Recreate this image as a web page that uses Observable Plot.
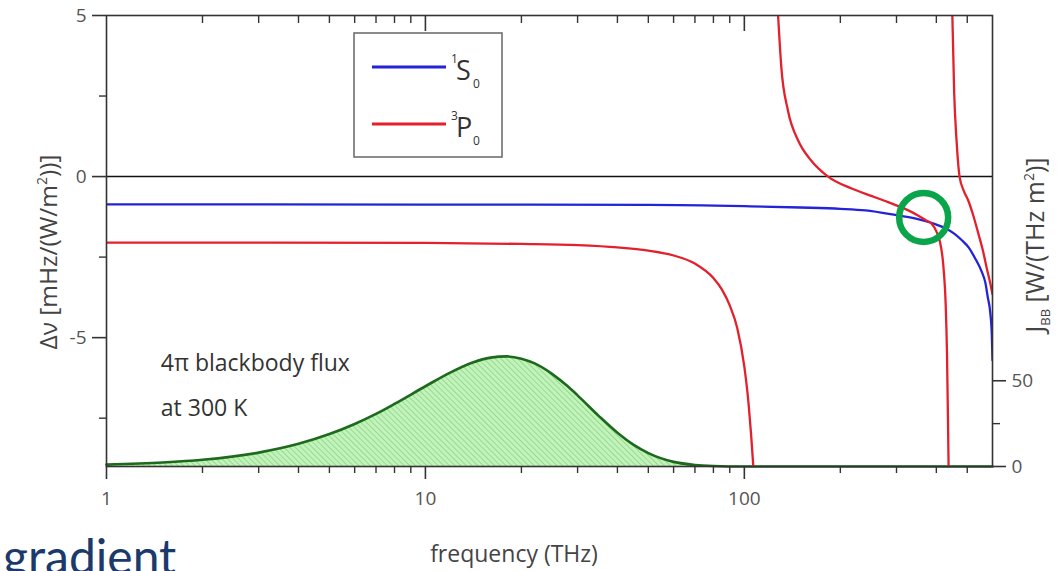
<!DOCTYPE html>
<html>
<head>
<meta charset="utf-8">
<script src="https://cdn.jsdelivr.net/npm/d3@7"></script>
<script src="https://cdn.jsdelivr.net/npm/@observablehq/plot@0.6"></script>
<style>
  html, body { margin: 0; padding: 0; background: #fff; overflow: hidden; }
  #chart { position: relative; width: 1059px; height: 571px; }
</style>
</head>
<body>
<div id="chart"></div>
<script>
// Frequency axis ticks (THz)
const xMajorTicks = [1, 10, 100];
const xMinorTicks = [2, 3, 4, 5, 6, 7, 8, 9, 20, 30, 40, 50, 60, 70, 80, 90, 200, 300, 400, 500];
const yMajorTicks = [-5, 0, 5];
const yMinorTicks = [-7.5, -2.5, 2.5];
const jMajorTicks = [0, 50];
const jMinorTicks = [25];

// 1S0 ground state: BBR Stark shift coefficient, mHz/(W/m²)
const s0Freq  = [1, 10, 50, 100, 150, 200, 240, 300, 350, 390, 430, 455, 480, 505, 530, 555, 570, 580, 590, 597, 600];
const s0Shift = [-0.86, -0.87, -0.88, -0.92, -0.96, -1.0, -1.05, -1.2, -1.32, -1.45, -1.62, -1.77, -1.97, -2.2, -2.55, -2.95, -3.3, -3.75, -4.2, -4.9, -5.7];

// 3P0 clock state: three branches separated by resonances
const p0Freq1  = [1, 3, 10, 20, 30, 40, 50, 60, 70, 80, 85, 90, 95, 100, 103, 105, 106.7];
const p0Shift1 = [-2.05, -2.05, -2.06, -2.09, -2.13, -2.2, -2.3, -2.45, -2.7, -3.15, -3.5, -4.0, -4.7, -5.9, -7.0, -8.0, -9.0];
const p0Freq2  = [127.6, 130.6, 137, 147.5, 162, 183, 217, 250, 275, 310, 342, 370, 386, 400, 410, 421, 428, 432, 435, 437];
const p0Shift2 = [5, 3.4, 2.05, 1.12, 0.5, 0.0, -0.37, -0.6, -0.75, -0.95, -1.15, -1.35, -1.46, -1.7, -2.0, -2.8, -4.0, -5.5, -7.5, -9];
const p0Freq3  = [449, 455, 463, 473, 488, 504, 522, 542, 560, 575, 590, 600];
const p0Shift3 = [5, 2.6, 1.1, 0.0, -0.45, -0.75, -1.2, -1.78, -2.3, -2.82, -3.3, -3.65];

// 4π blackbody spectral flux at 300 K, W/(THz m²)
const bbFreq = [1, 1.5, 2, 3, 4, 5, 6, 7, 8, 10, 12, 14, 16, 18, 20, 22, 25, 28, 30, 35, 40, 45, 50, 60, 70, 80, 100, 150, 600];
const bbFlux = [1.1, 2.3, 3.9, 8.1, 13.2, 18.9, 24.8, 30.7, 36.5, 46.8, 54.9, 60.5, 63.5, 64.2, 62.9, 60.1, 53.9, 46.6, 41.5, 29.4, 19.7, 12.6, 7.8, 2.7, 0.9, 0.3, 0.0, 0, 0];

// highlighted crossing of the two curves
const markFreq = [365];
const markShift = [-1.27];

// shared vertical frame: left axis Δν, right axis J_BB
const yLow = -9, yHigh = 5;
const jFull = 263;                       // J_BB at the top of the frame
const jToY = j => yLow + j * (yHigh - yLow) / jFull;
const yToJ = y => Math.round((y - yLow) * jFull / (yHigh - yLow));

const s0 = s0Freq.map((f, i) => ({f, dv: s0Shift[i]}));
const p0 = [
  ...p0Freq1.map((f, i) => ({f, dv: p0Shift1[i], branch: 1})),
  ...p0Freq2.map((f, i) => ({f, dv: p0Shift2[i], branch: 2})),
  ...p0Freq3.map((f, i) => ({f, dv: p0Shift3[i], branch: 3}))
];
const bb = bbFreq.map((f, i) => ({f, j: bbFlux[i]}));
const marks = markFreq.map((f, i) => ({f, dv: markShift[i]}));

const tickStroke = "#333";
const tickText = "#555";
const tickFont = 19;
const blank = () => "";

const plot = Plot.plot({
  width: 1059,
  height: 571,
  marginTop: 15,
  marginBottom: 105,
  marginLeft: 106,
  marginRight: 67,
  style: {fontFamily: "'Open Sans', sans-serif", fontSize: "19px", color: "#444", background: "#fff", overflow: "visible"},
  x: {type: "log", domain: [1, 600], label: null},
  y: {domain: [yLow, yHigh], label: null},
  marks: [
    Plot.areaY(bb, {x: "f", y1: () => yLow, y2: d => jToY(d.j), fill: "url(#bbHatch)", curve: "monotone-x"}),
    Plot.line(bb, {x: "f", y: d => jToY(d.j), stroke: "#1d6a1d", strokeWidth: 2.6, curve: "monotone-x"}),
    Plot.ruleY([0], {stroke: "#111", strokeWidth: 1.6}),
    Plot.line(s0, {x: "f", y: "dv", stroke: "#2323d8", strokeWidth: 2.3, curve: "monotone-x", clip: "frame"}),
    Plot.line(p0, {x: "f", y: "dv", z: "branch", stroke: "#e3202b", strokeWidth: 2.3, curve: "monotone-x", clip: "frame"}),
    Plot.frame({stroke: "#333", strokeWidth: 1.6}),
    // bottom axis
    Plot.axisX({anchor: "bottom", ticks: xMajorTicks, tickSize: 13, tickPadding: 12, tickFormat: d => String(d), stroke: tickStroke, fill: tickText, fontSize: tickFont, strokeWidth: 1.6, label: null}),
    Plot.axisX({anchor: "bottom", ticks: xMinorTicks, tickSize: 7, tickFormat: blank, stroke: tickStroke, strokeWidth: 1.4, label: null}),
    // top frame ticks pointing inward
    Plot.axisX({anchor: "top", ticks: [10, 100], tickSize: 15, dy: 15, tickFormat: blank, stroke: tickStroke, strokeWidth: 1.6, label: null}),
    Plot.axisX({anchor: "top", ticks: xMinorTicks, tickSize: 7, dy: 7, tickFormat: blank, stroke: tickStroke, strokeWidth: 1.4, label: null}),
    // left axis Δν
    Plot.axisY({anchor: "left", ticks: yMajorTicks, tickSize: 14, tickPadding: 6, tickFormat: d => String(d), stroke: tickStroke, fill: tickText, fontSize: tickFont, strokeWidth: 1.6, label: null}),
    Plot.axisY({anchor: "left", ticks: yMinorTicks, tickSize: 7, tickFormat: blank, stroke: tickStroke, strokeWidth: 1.4, label: null}),
    // right axis J_BB
    Plot.axisY({anchor: "right", ticks: jMajorTicks.map(jToY), tickSize: 13, tickPadding: 6, tickFormat: yToJ, stroke: tickStroke, fill: tickText, fontSize: tickFont, strokeWidth: 1.6, label: null}),
    Plot.axisY({anchor: "right", ticks: jMinorTicks.map(jToY), tickSize: 7, tickFormat: blank, stroke: tickStroke, strokeWidth: 1.4, label: null}),
    // annotations
    Plot.text(["4π blackbody flux"], {x: 1.48, y: -5.81, text: d => d, textAnchor: "start", fill: "#333", fontSize: 23}),
    Plot.text(["at 300 K"], {x: 1.48, y: -7.2, text: d => d, textAnchor: "start", fill: "#333", fontSize: 23}),
    Plot.dot(marks, {x: "f", y: "dv", r: 24.5, stroke: "#0aa54a", strokeWidth: 6.5, fill: "none"})
  ]
});

const svg = d3.select(plot);

// hatched fill for the blackbody spectrum
const defs = svg.insert("defs", ":first-child");
const pat = defs.append("pattern")
  .attr("id", "bbHatch")
  .attr("patternUnits", "userSpaceOnUse")
  .attr("width", 4).attr("height", 4)
  .attr("patternTransform", "rotate(-45)");
pat.append("rect").attr("width", 4).attr("height", 4).attr("fill", "#c4f2bd");
pat.append("line").attr("x1", 0).attr("y1", 0).attr("x2", 0).attr("y2", 4)
  .attr("stroke", "#79d271").attr("stroke-width", 1.3);

const font = "'Open Sans', sans-serif";

// left axis title
const ly = svg.append("text")
  .attr("transform", "translate(57,252) rotate(-90)")
  .attr("text-anchor", "middle").attr("fill", "#444")
  .style("font-family", font).style("font-size", "24.5px");
ly.append("tspan").text("Δν [mHz/(W/m");
ly.append("tspan").attr("dy", -10).style("font-size", "14px").text("2");
ly.append("tspan").attr("dy", 10).text("))]");

// right axis title
const ry = svg.append("text")
  .attr("transform", "translate(1044,245) rotate(-90)")
  .attr("text-anchor", "middle").attr("fill", "#444")
  .style("font-family", font).style("font-size", "25px");
ry.append("tspan").text("J");
ry.append("tspan").attr("dy", 6).style("font-size", "13px").text("BB");
ry.append("tspan").attr("dy", -6).text(" [W/(THz m");
ry.append("tspan").attr("dy", -10).style("font-size", "14px").text("2");
ry.append("tspan").attr("dy", 10).text(")]");

// x axis title
svg.append("text")
  .attr("x", 514).attr("y", 562)
  .attr("text-anchor", "middle").attr("fill", "#444")
  .style("font-family", font).style("font-size", "23px")
  .text("frequency (THz)");

// legend
const lg = svg.append("g").attr("text-anchor", "start");
lg.append("rect").attr("x", 354).attr("y", 33).attr("width", 148).attr("height", 124)
  .attr("fill", "#fff").attr("stroke", "#666").attr("stroke-width", 1.5);
const legendItems = [
  {color: "#2323d8", sup: "1", main: "S", y: 67, base: 80},
  {color: "#e3202b", sup: "3", main: "P", y: 124, base: 137}
];
for (const it of legendItems) {
  lg.append("line").attr("x1", 372).attr("x2", 446).attr("y1", it.y).attr("y2", it.y)
    .attr("stroke", it.color).attr("stroke-width", 3);
  lg.append("text").attr("x", 451).attr("y", it.base - 17).attr("fill", "#333")
    .attr("text-anchor", "start")
    .style("font-family", font).style("font-size", "12px").text(it.sup);
  lg.append("text").attr("x", 456).attr("y", it.base).attr("fill", "#333")
    .attr("text-anchor", "start")
    .style("font-family", font).style("font-size", "27px").text(it.main);
  lg.append("text").attr("x", 473).attr("y", it.base + 8).attr("fill", "#333")
    .attr("text-anchor", "start")
    .style("font-family", font).style("font-size", "12px").text("0");
}

// heading fragment at the bottom edge
svg.append("text")
  .attr("x", 3).attr("y", 574)
  .attr("text-anchor", "start")
  .attr("fill", "#1b3a6b")
  .style("font-family", "Lato, sans-serif").style("font-size", "48px")
  .text("gradient");

document.getElementById("chart").appendChild(plot);
</script>
</body>
</html>
